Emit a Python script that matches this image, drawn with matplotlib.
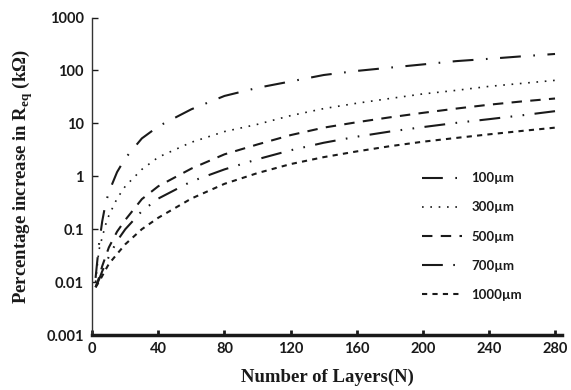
import matplotlib
matplotlib.use("Agg")
import matplotlib.pyplot as plt
from matplotlib.ticker import FixedLocator, FixedFormatter, NullLocator

N = [2, 4, 6, 8, 10, 15, 20, 30, 40, 60, 80, 100, 120, 140, 160, 180, 200, 220, 240, 260, 280]

r100 = [0.012, 0.05, 0.14, 0.3, 0.5, 1.2, 2.2, 5.2, 8.8, 18.5, 33, 47, 62, 82, 98, 113, 130, 150, 166, 185, 205]
r300 = [0.01, 0.04, 0.07, 0.12, 0.18, 0.38, 0.65, 1.35, 2.3, 4.4, 7, 9.6, 14, 19, 24, 29.5, 36, 42, 50, 57, 65]
r500 = [0.008, 0.012, 0.02, 0.03, 0.045, 0.09, 0.15, 0.37, 0.65, 1.4, 2.6, 4.0, 6.0, 8.3, 10.5, 13, 15.8, 19, 22.5, 26, 29.5]
r700 = [0.008, 0.011, 0.016, 0.022, 0.03, 0.06, 0.1, 0.22, 0.38, 0.8, 1.35, 2.1, 3.1, 4.3, 5.6, 7.0, 8.5, 10.2, 12, 14.2, 17]
r1000 = [0.008, 0.01, 0.013, 0.017, 0.022, 0.034, 0.052, 0.1, 0.165, 0.38, 0.72, 1.15, 1.7, 2.3, 2.95, 3.7, 4.5, 5.3, 6.2, 7.2, 8.3]

labels = ["100\u00b5m", "300\u00b5m", "500\u00b5m", "700\u00b5m", "1000\u00b5m"]
xticks = [0, 40, 80, 120, 160, 200, 240, 280]
yticks = [0.001, 0.01, 0.1, 1, 10, 100, 1000]
yticklabels = ["0.001", "0.01", "0.1", "1", "10", "100", "1000"]

fig = plt.figure(figsize=(5.71, 3.90), dpi=100)
ax = fig.add_axes([0.1616, 0.141, 0.822, 0.814])

c = "#1a1a1a"
styles = [
    dict(lw=1.5, ls=(0, (10, 6, 0.8, 6))),
    dict(lw=1.2, ls=(0, (1, 4))),
    dict(lw=1.5, ls=(0, (5, 4))),
    dict(lw=1.5, ls=(0, (10, 5, 0.8, 5, 0.8, 5))),
    dict(lw=1.5, ls=(0, (2.5, 2.5))),
]
for y, lab, st in zip([r100, r300, r500, r700, r1000], labels, styles):
    ax.plot(N, y, color=c, label=lab, **st)

ax.set_yscale("log")
ax.set_xlim(0, 284)
ax.set_ylim(0.001, 1000)
ax.yaxis.set_major_locator(FixedLocator(yticks))
ax.yaxis.set_major_formatter(FixedFormatter(yticklabels))
ax.yaxis.set_minor_locator(NullLocator())
ax.set_xticks(xticks)
ax.set_xticklabels([str(v) for v in xticks])

for s in ["top", "right"]:
    ax.spines[s].set_visible(False)
ax.spines["left"].set_linewidth(1.0)
ax.spines["left"].set_color("#333333")
ax.spines["bottom"].set_linewidth(2.5)
ax.spines["bottom"].set_color("#1a1a1a")

ax.tick_params(axis="y", direction="in", length=4, width=1.0, pad=6,
               labelsize=10.5, colors="#1a1a1a")
ax.tick_params(axis="x", direction="in", length=3.5, width=2.0, pad=5,
               labelsize=10.5, colors="#1a1a1a")
for t in ax.get_xticklabels() + ax.get_yticklabels():
    t.set_fontfamily("Lato")
    t.set_fontweight("bold")

ax.set_xlabel("Number of Layers(N)", fontfamily="Liberation Serif",
              fontweight="bold", fontsize=13.5, labelpad=9, color="#1a1a1a")
ax.set_ylabel("Percentage increase in R$_{\\mathregular{eq}}$ (k\u03a9)",
              fontfamily="Liberation Serif", fontweight="bold", fontsize=13.5,
              labelpad=8, color="#1a1a1a")

leg = ax.legend(loc="upper left", bbox_to_anchor=(0.678, 0.55), frameon=False,
                handlelength=3.0, handletextpad=0.7, labelspacing=1.3,
                prop=dict(family="Lato", weight="bold", size=9.5))
for t in leg.get_texts():
    t.set_color("#1a1a1a")

fig.savefig("out.png", dpi=100)
